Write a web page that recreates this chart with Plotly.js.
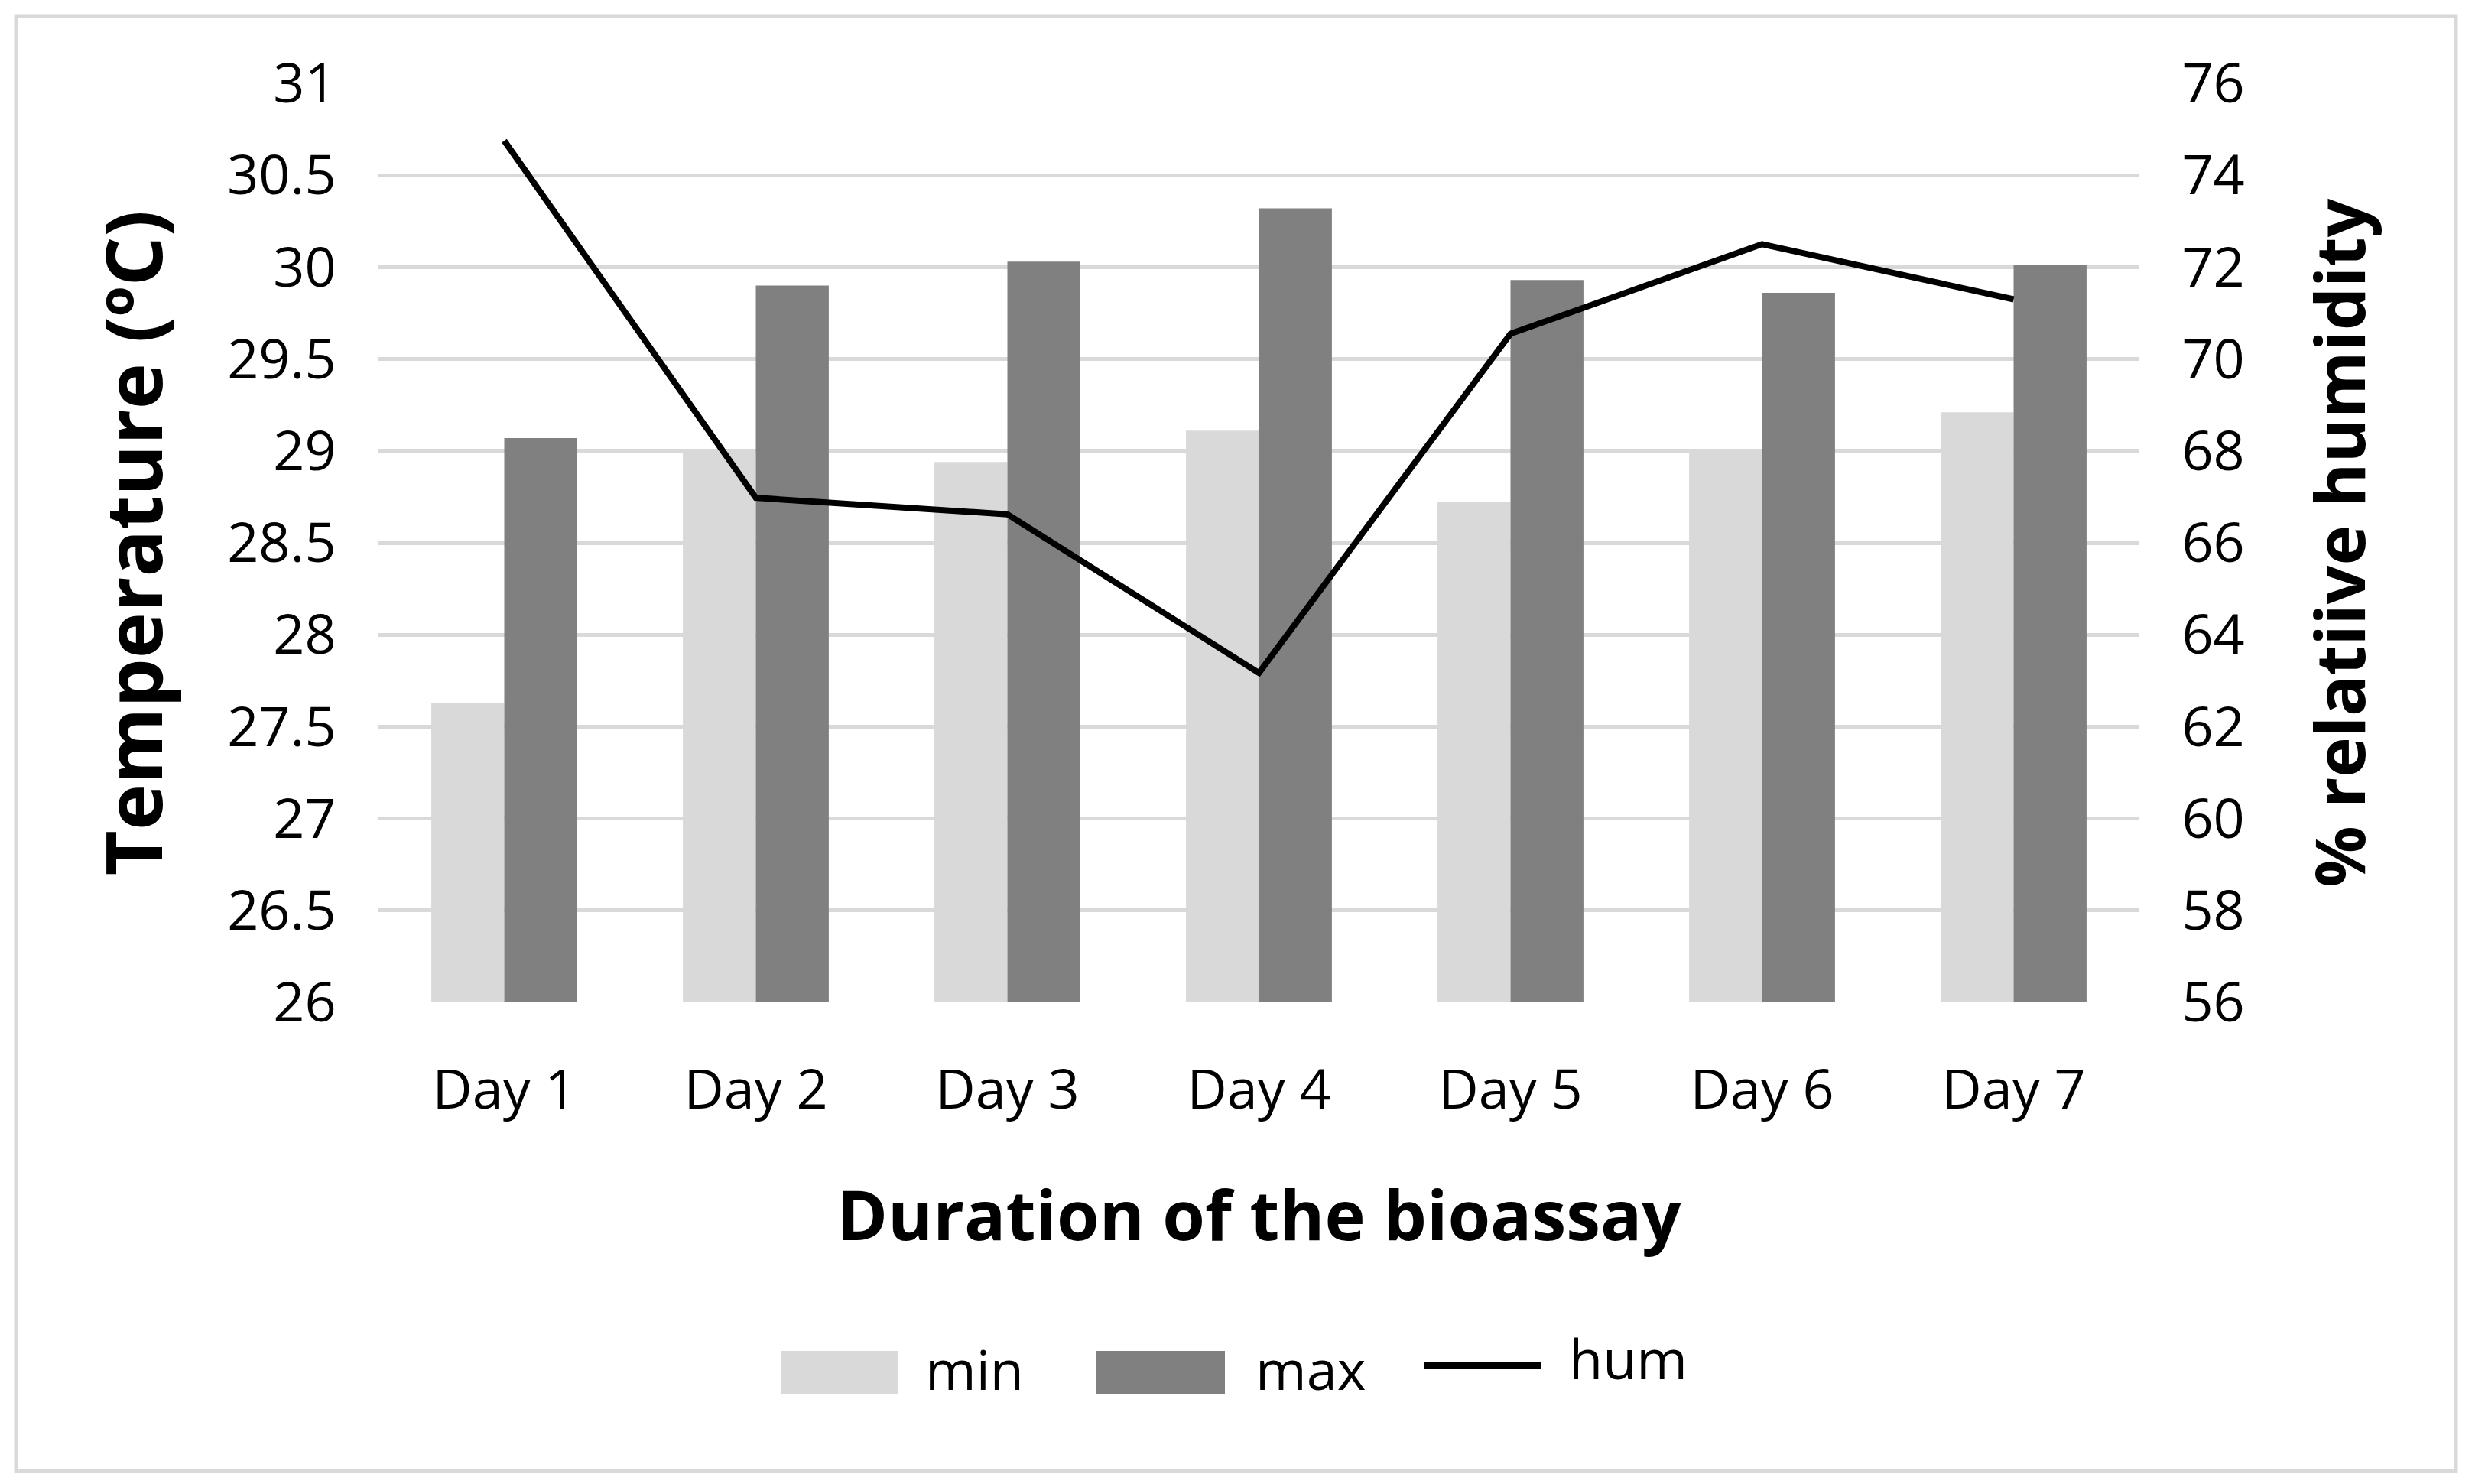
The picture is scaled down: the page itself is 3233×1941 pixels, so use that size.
<!DOCTYPE html>
<html>
<head>
<meta charset="utf-8">
<script src="https://cdn.plot.ly/plotly-3.0.1.min.js"></script>
<style>html,body{margin:0;padding:0;background:#fff;}#chart{width:3233px;height:1941px;}</style>
</head>
<body>
<div id="chart"></div>
<script>
const days = ["Day 1","Day 2","Day 3","Day 4","Day 5","Day 6","Day 7"];
const tempMin = [27.63, 29.01, 28.94, 29.11, 28.72, 29.0, 29.21];
const tempMax = [29.07, 29.9, 30.03, 30.32, 29.93, 29.86, 30.01];
const humidity = [74.75, 66.98, 66.62, 63.17, 70.55, 72.5, 71.3];
const seriesNames = ["min", "max", "hum"];

const W = 3233, H = 1941;
const M = {l: 495, r: 435, t: 109, b: 630};
const PW = W - M.l - M.r, PH = H - M.t - M.b;
const px = x => (x - M.l) / PW;
const py = y => (H - M.b - y) / PH;

const FONT = "Open Sans, Liberation Sans, sans-serif";
const cMin = "#d9d9d9", cMax = "#808080", cHum = "#000000";

const traces = [
  {type: "bar", name: seriesNames[0], x: days, y: tempMin, marker: {color: cMin}, showlegend: false, yaxis: "y"},
  {type: "bar", name: seriesNames[1], x: days, y: tempMax, marker: {color: cMax}, showlegend: false, yaxis: "y"},
  {type: "scatter", mode: "lines", name: seriesNames[2], x: days, y: humidity, line: {color: cHum, width: 8}, showlegend: false, yaxis: "y2"}
];

const legendY0 = 1767, legendY1 = 1823, legendYc = 1790;
const shapes = [
  {type: "rect", xref: "paper", yref: "paper", x0: px(21), x1: px(3212), y0: py(1924), y1: py(21), line: {color: "#d9d9d9", width: 5}, fillcolor: "rgba(0,0,0,0)", layer: "below"},
  {type: "rect", xref: "paper", yref: "paper", x0: px(1021), x1: px(1175), y0: py(legendY1), y1: py(legendY0), line: {width: 0}, fillcolor: cMin},
  {type: "rect", xref: "paper", yref: "paper", x0: px(1433), x1: px(1602), y0: py(legendY1), y1: py(legendY0), line: {width: 0}, fillcolor: cMax},
  {type: "line", xref: "paper", yref: "paper", x0: px(1862), x1: px(2015), y0: py(1786), y1: py(1786), line: {color: cHum, width: 8}}
];
const legendFont = {family: FONT, size: 72, color: "#000"};
const annotations = [
  {xref: "paper", yref: "paper", x: px(1208), y: py(legendYc), xanchor: "left", yanchor: "middle", text: seriesNames[0], showarrow: false, font: legendFont},
  {xref: "paper", yref: "paper", x: px(1640), y: py(legendYc), xanchor: "left", yanchor: "middle", text: seriesNames[1], showarrow: false, font: legendFont},
  {xref: "paper", yref: "paper", x: px(2050), y: py(legendYc - 14), xanchor: "left", yanchor: "middle", text: seriesNames[2], showarrow: false, font: legendFont}
];

const tickFont = {family: FONT, size: 72, color: "#000"};
const titleFontX = {family: FONT, size: 90, color: "#000"};
const titleFontL = {family: FONT, size: 102, color: "#000"};
const titleFontR = {family: FONT, size: 89, color: "#000"};

const layout = {
  width: W, height: H,
  margin: M,
  paper_bgcolor: "#fff", plot_bgcolor: "#fff",
  showlegend: false,
  barmode: "group", bargap: 0.42, bargroupgap: 0,
  xaxis: {
    type: "category", tickfont: tickFont,
    ticks: "outside", ticklen: 52, tickcolor: "rgba(0,0,0,0)",
    showline: false, showgrid: false, zeroline: false,
    title: {text: "<b>Duration of the bioassay</b>", font: titleFontX, standoff: 88}
  },
  yaxis: {
    range: [26, 31], dtick: 0.5, tick0: 26, tickfont: tickFont,
    ticks: "outside", ticklen: 40, tickcolor: "rgba(0,0,0,0)",
    showgrid: true, gridcolor: "#d9d9d9", gridwidth: 5,
    showline: false, zeroline: false,
    title: {text: "<b>Temperature (ºC)</b>", font: titleFontL, standoff: 50}
  },
  yaxis2: {
    overlaying: "y", side: "right",
    range: [56, 76], dtick: 2, tick0: 56, tickfont: tickFont,
    ticks: "outside", ticklen: 40, tickcolor: "rgba(0,0,0,0)",
    showgrid: false, showline: false, zeroline: false,
    title: {text: "<b>% relatiive humidity</b>", font: titleFontR, standoff: 95}
  },
  shapes: shapes,
  annotations: annotations
};

Plotly.newPlot("chart", traces, layout, {displayModeBar: false, staticPlot: true});
</script>
</body>
</html>
